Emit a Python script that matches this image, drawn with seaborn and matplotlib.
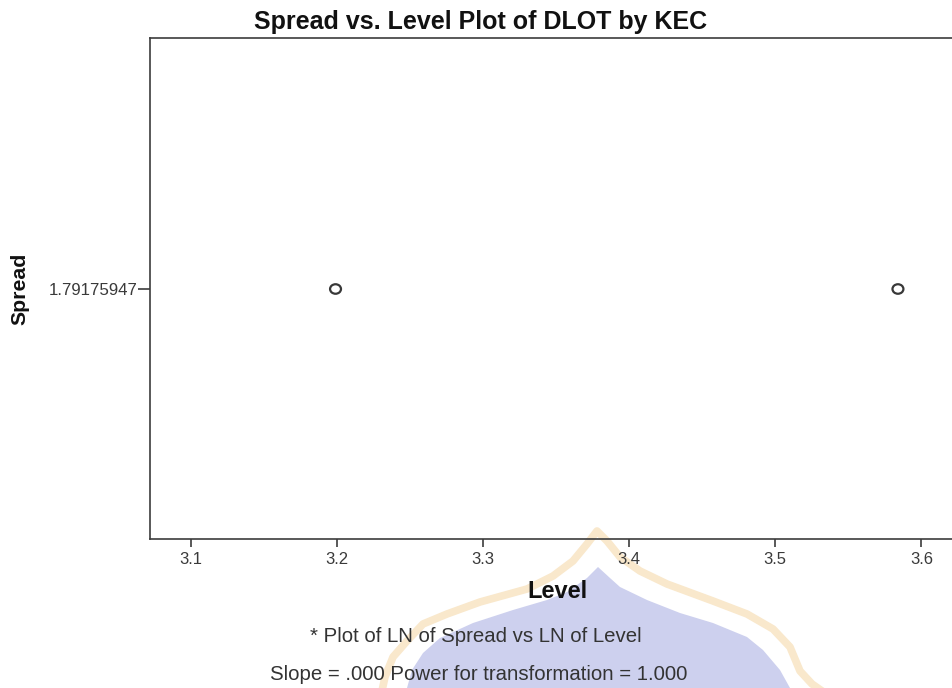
import seaborn as sns
import pandas as pd
import matplotlib
matplotlib.use("Agg")
from matplotlib import pyplot as plt
from matplotlib.patches import Polygon
from matplotlib.path import Path
from matplotlib.transforms import Affine2D

level = [3.199, 3.584]
spread = [1.79175947, 1.79175947]
x_ticks = [3.1, 3.2, 3.3, 3.4, 3.5, 3.6]
y_ticks = [1.79175947]
y_tick_labels = ["1.79175947"]

title = "Spread vs. Level Plot of DLOT by KEC"
note1 = "* Plot of LN of Spread vs LN of Level"
note2 = "Slope = .000 Power for transformation = 1.000"

# watermark outline, in image pixels
dome_outer = [(380, 700), (385, 677), (393, 657), (407, 641), (423, 624), (447, 614), (480, 602),
              (527, 589), (553, 576), (573, 561), (587, 544), (597, 531), (607, 541), (620, 557),
              (640, 571), (667, 584), (713, 601), (747, 614), (773, 629), (790, 647), (800, 671),
              (812, 684), (835, 700)]
dome_inner = [(598, 567), (610, 578), (620, 587), (647, 600), (680, 613), (713, 623), (747, 637),
              (763, 650), (780, 670), (790, 688), (407, 688), (412, 670), (423, 653), (440, 638),
              (473, 623), (513, 610), (547, 600), (567, 592), (587, 578)]

W, H = 952, 688

sns.set_style("white")
plt.rcParams['font.family'] = ['Liberation Sans', 'DejaVu Sans']

fig = plt.figure(figsize=(W / 100, H / 100), dpi=100)
ax = fig.add_axes([150 / W, 1 - 539 / H, (W - 150) / W, (539 - 38) / H])
ax.patch.set_visible(False)

# image pixels -> figure
px = Affine2D().scale(1 / W, -1 / H).translate(0, 1) + fig.transFigure
fig.add_artist(Polygon(dome_outer, closed=True, transform=px, fc="white", ec="#f9e8cc", lw=5.5,
                       joinstyle="round", zorder=-2))
fig.add_artist(Polygon(dome_inner, closed=True, transform=px, fc="#cdd0ee", ec="none", zorder=-1))

df = pd.DataFrame({"Level": level, "Spread": spread})
ring = Path.unit_circle().transformed(Affine2D().scale(1.15, 1.0))
sns.scatterplot(data=df, x="Level", y="Spread", ax=ax, s=62, marker=ring, facecolors="none",
                edgecolor="#383838", linewidth=1.6, clip_on=False)

ax.set_xlim(3.072, 3.621)
ax.set_ylim(spread[0] - 0.998, spread[0] + 1.002)
ax.set_xticks(x_ticks)
ax.set_xticklabels([f"{t:.1f}" for t in x_ticks])
ax.set_yticks(y_ticks)
ax.set_yticklabels(y_tick_labels)

ax.spines["right"].set_visible(False)
for s in ["left", "top", "bottom"]:
    ax.spines[s].set_linewidth(1.2)
    ax.spines[s].set_color("#3c3c3c")
ax.tick_params(axis="x", length=6, width=1.2, color="#3c3c3c", labelsize=12, labelcolor="#3a3a3a", pad=3, bottom=True)
ax.tick_params(axis="y", length=9, width=1.2, color="#3c3c3c", labelsize=12.2, labelcolor="#3a3a3a", pad=0, left=True)

ax.set_xlabel("")
ax.set_ylabel("")
fig.text(557 / W, 1 - 592 / H, "Level", fontsize=17, fontweight="bold", color="#111111", ha="center", va="center")
fig.text(20 / W, 1 - 289 / H, "Spread", fontsize=15.3, fontweight="bold", color="#111111", rotation=90, ha="center", va="center")
fig.text(480.5 / W, 1 - 22 / H, title, fontsize=18, fontweight="bold", color="#111111", ha="center", va="center")
fig.text(476 / W, 1 - 637 / H, note1, fontsize=14.7, color="#333333", ha="center", va="center")
fig.text(479 / W, 1 - 674 / H, note2, fontsize=14.7, color="#333333", ha="center", va="center")

fig.savefig("out.png", dpi=100)
